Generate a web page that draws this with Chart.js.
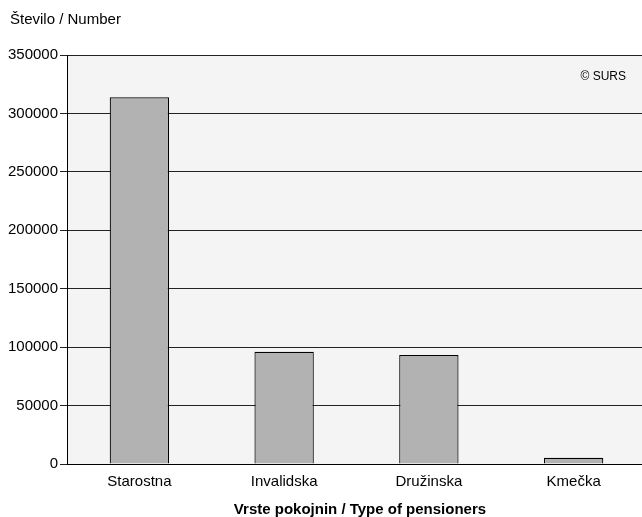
<!DOCTYPE html>
<html>
<head>
<meta charset="utf-8">
<script src="https://cdn.jsdelivr.net/npm/chart.js@4/dist/chart.umd.min.js"></script>
<style>
  html, body { margin: 0; padding: 0; background: #fff; overflow: hidden; }
  #wrap { width: 660px; height: 517px; }
</style>
</head>
<body>
<div id="wrap"><canvas id="pensionChart" width="660" height="517"></canvas></div>
<script>
// Data
const categories = ['Starostna', 'Invalidska', 'Družinska', 'Kmečka'];
const pensioners = [313800, 96100, 93300, 5400];
const yTicks = [0, 50000, 100000, 150000, 200000, 250000, 300000, 350000];

const FONT = 'Arial, "Liberation Sans", sans-serif';

// grey plot background + captions
const decor = {
    id: 'decor',
    beforeDraw(chart) {
        const { ctx, chartArea: a } = chart;
        ctx.save();
        ctx.fillStyle = '#f4f4f4';
        ctx.fillRect(a.left, a.top, a.right - a.left, a.bottom - a.top);
        ctx.restore();
    },
    afterDraw(chart) {
        const { ctx } = chart;
        ctx.save();
        ctx.fillStyle = '#000';
        ctx.font = '15px ' + FONT;
        ctx.textBaseline = 'middle';
        ctx.textAlign = 'left';
        ctx.fillText('Število / Number', 10, 20);
        ctx.font = 'bold 15px ' + FONT;
        ctx.textAlign = 'center';
        ctx.fillText('Vrste pokojnin / Type of pensioners', 360, 510);
        ctx.font = '12px ' + FONT;
        ctx.textAlign = 'right';
        ctx.fillText('© SURS', 626, 77);
        ctx.restore();
    }
};

const ctx = document.getElementById('pensionChart').getContext('2d');
const pensionChart = new Chart(ctx, {
    type: 'bar',
    data: {
        labels: categories,
        datasets: [{
            label: 'Število',
            data: pensioners,
            backgroundColor: '#b2b2b2',
            borderColor: '#000',
            borderWidth: 1.2,
            barPercentage: 0.41,
            categoryPercentage: 1
        }]
    },
    options: {
        responsive: false,
        animation: false,
        layout: { padding: { top: 55, right: 14, left: 0, bottom: 0 } },
        plugins: {
            legend: { display: false },
            tooltip: { enabled: false }
        },
        scales: {
            x: {
                grid: { display: false, drawTicks: false },
                border: { color: '#000', width: 1 },
                ticks: { color: '#000', font: { family: FONT, size: 15 }, padding: 9 },
                afterFit(scale) { scale.height = 53; }
            },
            y: {
                min: 0,
                max: 350000,
                afterBuildTicks(scale) { scale.ticks = yTicks.map(v => ({ value: v })); },
                grid: { color: '#222', lineWidth: 1, tickLength: 7, drawTicks: true },
                border: { color: '#000', width: 1 },
                ticks: {
                    color: '#000',
                    font: { family: FONT, size: 15 },
                    padding: 2,
                    callback: v => String(v)
                },
                afterFit(scale) { scale.width = 67; }
            }
        }
    },
    plugins: [decor]
});
</script>
</body>
</html>
